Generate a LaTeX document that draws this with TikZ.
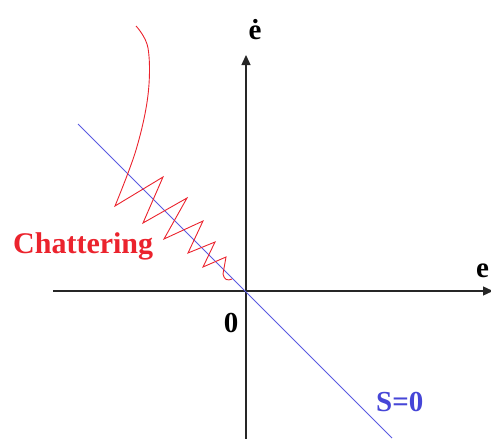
\documentclass[tikz,border=0pt]{standalone}
\usepackage{fontspec}
\setmainfont{Liberation Serif}
\usetikzlibrary{arrows.meta}
\definecolor{chred}{RGB}{235,35,45}
\definecolor{sblue}{RGB}{90,90,225}
\definecolor{sbluetxt}{RGB}{70,70,215}
\tikzset{
  axis/.style={line width=1.3pt,draw=black!85,-{Triangle[length=10pt,width=9pt]}},
  lbl/.style={font=\fontsize{29}{31}\selectfont\bfseries,inner sep=0pt},
}
\begin{document}
\begin{tikzpicture}[x=1pt,y=-1pt]
\useasboundingbox (0,0) rectangle (491,439);
\coordinate (O) at (246,291);
\coordinate (xl) at (53,291);
\coordinate (xr) at (493,291);
\coordinate (yb) at (246,441);
\coordinate (yt) at (246,55);
\draw[axis] (xl) -- (xr);
\draw[axis] (yb) -- (yt);
\coordinate (s1) at (78,124);
\coordinate (s2) at (392,438);
\draw[sblue,line width=0.8pt] (s1) -- (s2);
\draw[chred,line width=0.9pt,line join=miter]
  plot[smooth,tension=0.6] coordinates {(136,26) (148,48) (148,95) (136,150) (115,206)}
  -- (163,177) -- (143,223) -- (187,198) -- (164,239) -- (203,221) -- (188,253)
  -- (215,242) -- (203,267) -- (226,257) -- (223,274) .. controls (224,280) and (228,281) .. (232,279);
\node[lbl,text=chred,anchor=base west,font=\fontsize{30}{32}\selectfont\bfseries] (chat) at (13,253) {Chattering};
\node[lbl,anchor=base] (zero) at (231,332) {0};
\node[lbl,anchor=base] (ex) at (482.5,277) {e};
\node[lbl,anchor=base] (ey) at (255,39) {ė};
\node[lbl,text=sbluetxt,anchor=base west] (s0) at (376,411) {S=0};
\end{tikzpicture}
\end{document}
